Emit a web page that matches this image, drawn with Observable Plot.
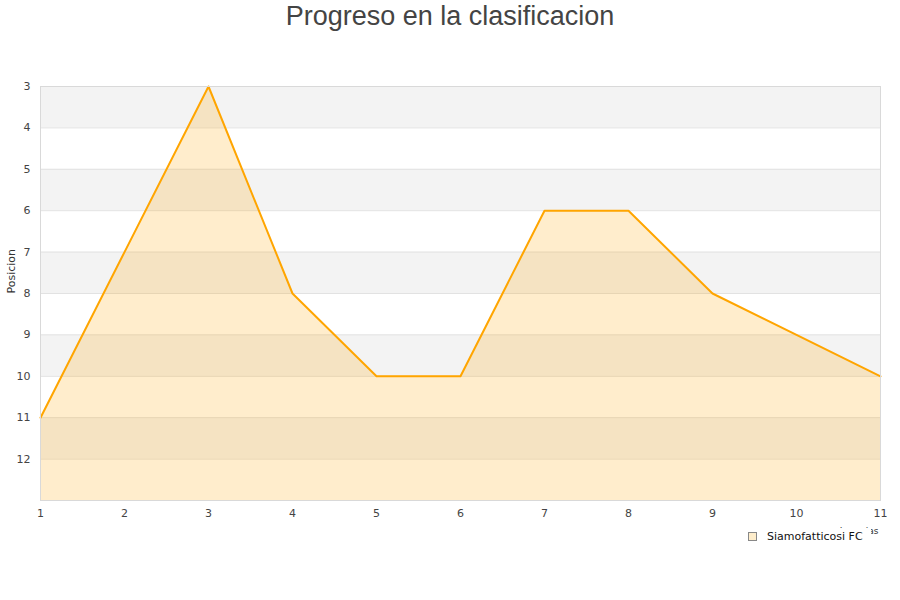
<!DOCTYPE html>
<html>
<head>
<meta charset="utf-8">
<script src="https://cdn.jsdelivr.net/npm/d3@7"></script>
<script src="https://cdn.jsdelivr.net/npm/@observablehq/plot@0.6"></script>
<style>
  body { margin: 0; background: #fff; width: 900px; height: 600px; position: relative; overflow: hidden; font-family: "DejaVu Sans", sans-serif; }
  #title { height: 40px; line-height: 32px; text-align: center; font-family: "Liberation Sans", Arial, sans-serif; font-size: 27px; color: #444; }
  #legend { position: absolute; left: 744px; top: 528px; background: #fff; padding: 2px 8px 2px 4px; font-size: 11px; color: #111; display: flex; align-items: center; }
  #legend .sw { width: 7px; height: 7px; border: 1px solid #888; background: #feedcb; margin-right: 10px; }
</style>
</head>
<body>
<div id="title">Progreso en la clasificacion</div>
<div id="chart"></div>
<div id="legend"><span class="sw"></span><span>Siamofatticosi FC</span></div>
<script>
const jornadas = [1, 2, 3, 4, 5, 6, 7, 8, 9, 10, 11];
const posiciones = [11, 7, 3, 8, 10, 10, 6, 6, 8, 9, 10];
const yTicks = [3, 4, 5, 6, 7, 8, 9, 10, 11, 12];
const bandStarts = [3, 5, 7, 9, 11];
const serie = "Siamofatticosi FC";
const yDomain = [3, 13];

const data = jornadas.map((j, i) => ({ j, p: posiciones[i] }));
const xMin = d3.min(jornadas), xMax = d3.max(jornadas);

const chart = Plot.plot({
  width: 900,
  height: 500,
  marginTop: 46,
  marginBottom: 40,
  marginLeft: 40,
  marginRight: 20,
  style: { fontFamily: "DejaVu Sans, sans-serif", fontSize: "11px", color: "#444", background: "#fff" },
  x: { domain: [xMin, xMax], ticks: jornadas, tickFormat: d => String(d), tickSize: 0, tickPadding: 9, label: null },
  y: { domain: yDomain, reverse: true, ticks: yTicks, tickFormat: d => String(d), tickSize: 0, tickPadding: 10, label: null },
  marks: [
    Plot.rect(bandStarts, { x1: () => xMin, x2: () => xMax, y1: d => d, y2: d => d + 1, fill: "#f3f3f3" }),
    Plot.ruleY(yTicks, { x1: xMin, x2: xMax, stroke: "#e2e2e2" }),
    Plot.areaY(data, { x: "j", y1: yDomain[1], y2: "p", fill: "orange", fillOpacity: 0.2 }),
    Plot.line(data, { x: "j", y: "p", stroke: "#ffa500", strokeWidth: 2 }),
    Plot.frame({ stroke: "#d9d9d9" }),
    Plot.axisX({ ticks: jornadas, tickSize: 0, tickPadding: 9, tickFormat: d => String(d), label: null }),
    Plot.axisY({ ticks: yTicks, tickSize: 0, tickPadding: 10, tickFormat: d => String(d), label: null }),
    Plot.text(["Posicion"], { frameAnchor: "left", dx: -29, rotate: -90, fontSize: 11, fill: "#333" }),
    Plot.text(["Jornadas"], { frameAnchor: "bottom-right", dy: 33, dx: -2, textAnchor: "end", fontSize: 9, fill: "#333" })
  ]
});
document.getElementById("chart").appendChild(chart);
</script>
</body>
</html>
